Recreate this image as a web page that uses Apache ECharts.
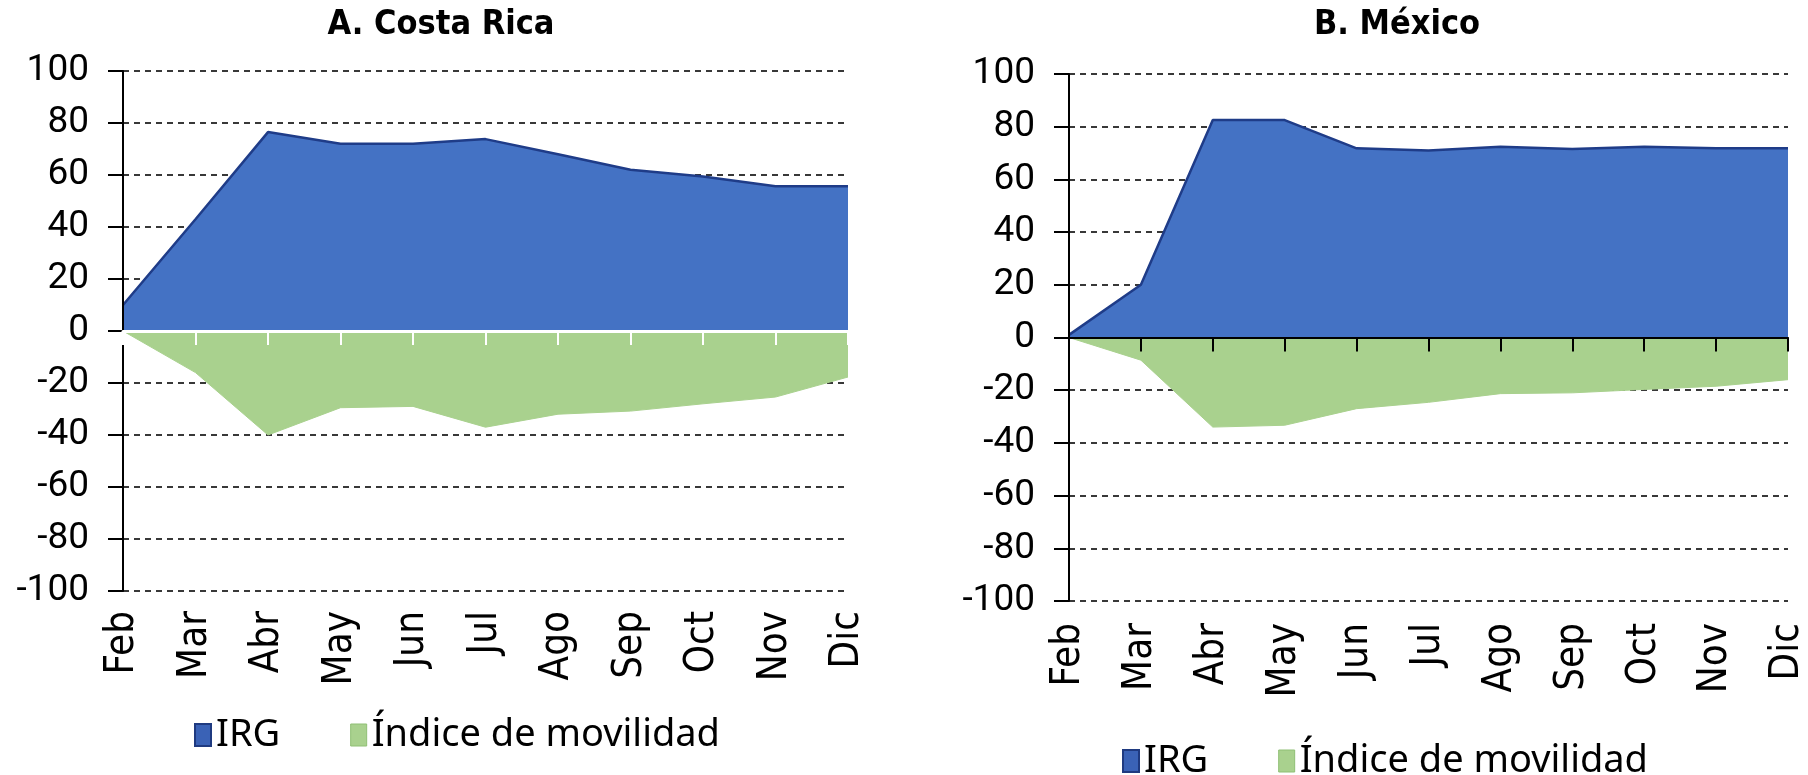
<!DOCTYPE html>
<html>
<head>
<meta charset="utf-8">
<script src="https://cdn.jsdelivr.net/npm/echarts@6/dist/echarts.min.js"></script>
<style>html,body{margin:0;padding:0;background:#fff}#c{width:1808px;height:775px}</style>
</head>
<body>
<div id="c"></div>
<script>
// ---- data ----
const months = ['Feb','Mar','Abr','May','Jun','Jul','Ago','Sep','Oct','Nov','Dic'];
const crIRG = [10, 43, 76.5, 72, 72, 73.8, 68, 62, 59.4, 55.7, 55.7];
const crMov = [0, -16, -40, -29.5, -29, -37, -32, -30.8, -28, -25.4, -17.7];
const mxIRG = [1, 20, 82.5, 82.5, 71.8, 71, 72.4, 71.5, 72.4, 71.8, 71.8];
const mxMov = [0, -8.6, -34, -33.3, -27, -24.6, -21.3, -21, -19.7, -18.5, -16];
const titles = ['A. Costa Rica', 'B. México'];
const seriesNames = ['IRG', 'Índice de movilidad'];
const yMin = -100, yMax = 100, yStep = 20;

const XFONT = "'DejaVu Sans Condensed', 'DejaVu Sans', sans-serif";
const YFONT = "Roboto, 'Noto Sans', sans-serif";
const BLUE = '#4472C4', BLUE_EDGE = '#1F3C88', GREEN = '#A9D18E';

const chart = echarts.init(document.getElementById('c'));

const grids = [
  {left: 123, top: 71, width: 725, height: 520},
  {left: 1069, top: 74, width: 719, height: 527}
];
const panels = [
  {irg: crIRG, mov: crMov, zeroColor: '#ffffff', zeroWidth: 3, titleX: 441, legendLeft: 194, legendTop: 716, labelMargin: 20},
  {irg: mxIRG, mov: mxMov, zeroColor: '#000000', zeroWidth: 2, titleX: 1397, legendLeft: 1122, legendTop: 742, labelMargin: 22}
];

const xAxis = [], yAxis = [], series = [], legend = [], graphic = [];
panels.forEach((p, i) => {
  xAxis.push({
    type: 'category', gridIndex: i, data: months, boundaryGap: false, z: 10,
    axisLine: {show: true, onZero: true, lineStyle: {color: p.zeroColor, width: p.zeroWidth}},
    axisTick: {show: true, length: 14, alignWithLabel: true, lineStyle: {color: p.zeroColor, width: 2}},
    axisLabel: {show: false}, splitLine: {show: false}
  });
  xAxis.push({
    type: 'category', gridIndex: i, data: months, boundaryGap: false, position: 'bottom',
    axisLine: {show: false, onZero: false}, axisTick: {show: false}, splitLine: {show: false},
    axisLabel: {rotate: 90, margin: p.labelMargin, fontSize: 40, color: '#000', fontFamily: XFONT}
  });
  yAxis.push({
    type: 'value', gridIndex: i, min: yMin, max: yMax, interval: yStep, z: 0,
    axisLine: {show: false}, axisTick: {show: false}, axisLabel: {show: false},
    splitLine: {show: true, lineStyle: {type: [6, 5], color: '#383838', width: 2}}
  });
  yAxis.push({
    type: 'value', gridIndex: i, min: yMin, max: yMax, interval: yStep, position: 'left', z: 9,
    axisLine: {show: true, onZero: false, lineStyle: {color: '#000', width: 2}},
    axisTick: {show: true, length: 15, lineStyle: {color: '#000', width: 2}},
    axisLabel: {margin: 34, fontSize: 37, color: '#000', fontFamily: YFONT},
    splitLine: {show: false}
  });
  series.push({
    type: 'line', name: seriesNames[0], xAxisIndex: i * 2, yAxisIndex: i * 2, data: p.irg,
    symbol: 'none', smooth: false,
    lineStyle: {color: BLUE_EDGE, width: 2.5},
    itemStyle: {color: BLUE},
    areaStyle: {color: BLUE, opacity: 1}
  });
  series.push({
    type: 'line', name: seriesNames[1], xAxisIndex: i * 2, yAxisIndex: i * 2, data: p.mov,
    symbol: 'none', smooth: false,
    lineStyle: {color: GREEN, width: 1},
    itemStyle: {color: GREEN},
    areaStyle: {color: GREEN, opacity: 1}
  });
  legend.push({
    left: p.legendLeft, top: p.legendTop, orient: 'horizontal', icon: 'rect', padding: 0,
    itemWidth: 16, itemHeight: 22, itemGap: 70,
    textStyle: {fontSize: 38, color: '#000', fontFamily: "'Noto Sans', sans-serif"},
    data: [
      {name: seriesNames[0], itemStyle: {color: '#3A62B6', borderColor: '#1F3A80', borderWidth: 2}},
      {name: seriesNames[1], itemStyle: {color: GREEN, borderColor: '#8FBF74', borderWidth: 1}}
    ]
  });
  graphic.push({
    type: 'text', x: p.titleX, y: 25,
    style: {text: titles[i], align: 'center', verticalAlign: 'middle',
      font: "bold 34px 'DejaVu Sans Condensed', 'DejaVu Sans', sans-serif", fill: '#000'}
  });
});

chart.setOption({
  animation: false,
  backgroundColor: '#fff',
  grid: grids,
  xAxis, yAxis, series, legend, graphic
});
</script>
</body>
</html>
